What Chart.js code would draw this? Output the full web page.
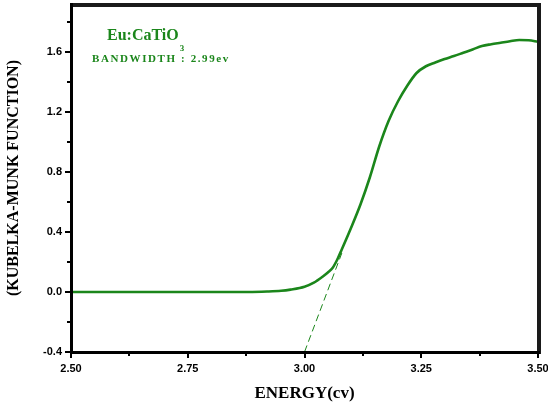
<!DOCTYPE html>
<html>
<head>
<meta charset="utf-8">
<script src="https://cdn.jsdelivr.net/npm/chart.js@4/dist/chart.umd.min.js"></script>
<style>
html,body{margin:0;padding:0;background:#fff;overflow:hidden;}
#wrap{width:548px;height:408px;overflow:hidden;}
#c{display:block;}
</style>
</head>
<body>
<div id="wrap"><canvas id="c" width="548" height="408"></canvas></div>
<script>
const energy = [2.50, 2.60, 2.70, 2.80, 2.88, 2.92, 2.95, 2.97, 3.00, 3.02, 3.04, 3.05, 3.06, 3.07, 3.08, 3.10, 3.12, 3.14, 3.16, 3.18, 3.20, 3.22, 3.24, 3.26, 3.28, 3.30, 3.32, 3.34, 3.36, 3.38, 3.40, 3.42, 3.44, 3.46, 3.48, 3.50];
const kmValues = [0, 0, 0, 0, 0, 0.003, 0.008, 0.016, 0.035, 0.062, 0.105, 0.13, 0.16, 0.215, 0.285, 0.43, 0.585, 0.765, 0.97, 1.14, 1.27, 1.375, 1.46, 1.505, 1.53, 1.553, 1.573, 1.595, 1.617, 1.64, 1.652, 1.662, 1.672, 1.68, 1.678, 1.668];
const tangentX = [3.00, 3.08];
const tangentY = [-0.4, 0.26];
const xMajorTicks = [2.50, 2.75, 3.00, 3.25, 3.50];
const xMinorTicks = [2.625, 2.875, 3.125, 3.375];
const yMajorTicks = [-0.4, 0.0, 0.4, 0.8, 1.2, 1.6];
const yMinorTicks = [-0.2, 0.2, 0.6, 1.0, 1.4, 1.8];
const sampleLabel = "Eu:CaTiO";
const sampleSub = "3";
const bandLabel = "BANDWIDTH : 2.99ev";
const xTitle = "ENERGY(cv)";
const yTitle = "(KUBELKA-MUNK FUNCTION)";

const GREEN = '#1b861b';

const mainData = energy.map((e,i)=>({x:e,y:kmValues[i]}));
const tanData = tangentX.map((e,i)=>({x:e,y:tangentY[i]}));

function zeroPad(s){ s.paddingTop = 0; s.paddingBottom = 0; s.paddingLeft = 0; s.paddingRight = 0; }

const framePlugin = {
  id:'frame',
  afterDraw(chart){
    const ctx = chart.ctx;
    const xs = chart.scales.x, ys = chart.scales.y;
    const L = Math.round(xs.getPixelForValue(2.5)), R = Math.round(xs.getPixelForValue(3.5));
    const T = Math.round(ys.getPixelForValue(1.92)), B = Math.round(ys.getPixelForValue(-0.4));
    ctx.save();
    ctx.globalAlpha = 1;
    ctx.globalCompositeOperation = 'source-over';
    ctx.fillStyle = '#1a1a1a';
    ctx.fillRect(L - 1, T - 1, R - L + 4, 4);      // top
    ctx.fillRect(R - 1, T - 1, 4, B - T + 3);      // right
    ctx.fillStyle = '#000';
    ctx.fillRect(L - 1, B - 1, R - L + 3, 3);      // bottom
    ctx.fillRect(L - 1, T - 1, 3, B - T + 3);      // left
    xMajorTicks.forEach(v=>{const p = Math.round(xs.getPixelForValue(v)); ctx.fillRect(p - 1, B, 2, 6);});
    xMinorTicks.forEach(v=>{const p = Math.round(xs.getPixelForValue(v)); ctx.fillRect(p - 1, B, 2, 4);});
    yMajorTicks.forEach(v=>{const p = Math.round(ys.getPixelForValue(v)); ctx.fillRect(L - 6, p - 1, 6, 2);});
    yMinorTicks.forEach(v=>{const p = Math.round(ys.getPixelForValue(v)); ctx.fillRect(L - 4, p - 1, 4, 2);});
    ctx.fillStyle = GREEN;
    ctx.textBaseline = 'alphabetic';
    ctx.textAlign = 'left';
    ctx.font = 'bold 16px "Liberation Serif", serif';
    ctx.fillText(sampleLabel, 107, 40);
    const w = ctx.measureText(sampleLabel).width;
    ctx.font = 'bold 9px "Liberation Serif", serif';
    ctx.fillText(sampleSub, 107 + w + 1, 51);
    ctx.font = 'bold 11px "Liberation Serif", serif';
    ctx.save();
    try { ctx.letterSpacing = '1.6px'; } catch(e) {}
    ctx.fillText(bandLabel, 92, 62);
    ctx.restore();
    ctx.restore();
  }
};

const tickFont = {family:'"Liberation Sans", Arial, sans-serif', size:11, weight:'bold'};

new Chart(document.getElementById('c'), {
  type:'line',
  data:{
    datasets:[
      {data:mainData, borderColor:GREEN, borderWidth:2.6, pointRadius:0, cubicInterpolationMode:'monotone', fill:false},
      {data:tanData, borderColor:GREEN, borderWidth:1, borderDash:[7,4], pointRadius:0, fill:false}
    ]
  },
  options:{
    responsive:false,
    animation:false,
    devicePixelRatio:1,
    layout:{padding:{left:0, top:4, right:10, bottom:0}},
    plugins:{legend:{display:false}, tooltip:{enabled:false}},
    scales:{
      x:{
        type:'linear', min:2.5, max:3.5,
        grid:{display:false, drawTicks:false},
        border:{display:false},
        afterFit(s){ s.height = 56; zeroPad(s); },
        afterBuildTicks(s){ s.ticks = xMajorTicks.map(v=>({value:v})); },
        ticks:{padding:10, color:'#000', font:tickFont, maxRotation:0,
          callback:(v)=>Number(v).toFixed(2)},
        title:{display:true, text:xTitle, color:'#000', font:{family:'"Liberation Serif", serif', size:17, weight:'bold'}, padding:{top:4,bottom:4}}
      },
      y:{
        type:'linear', min:-0.4, max:1.92,
        grid:{display:false, drawTicks:false},
        border:{display:false},
        afterFit(s){ s.width = 71; zeroPad(s); },
        afterBuildTicks(s){ s.ticks = yMajorTicks.map(v=>({value:v})); },
        ticks:{padding:9, color:'#000', font:tickFont,
          callback:(v)=>Number(v).toFixed(1)},
        title:{display:true, text:yTitle, color:'#000', font:{family:'"Liberation Serif", serif', size:16, weight:'bold'}, padding:{top:4,bottom:0}}
      }
    }
  },
  plugins:[framePlugin]
});
</script>
</body>
</html>
